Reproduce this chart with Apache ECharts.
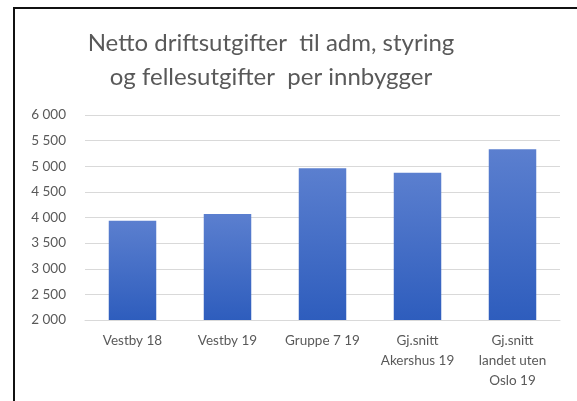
<!DOCTYPE html>
<html>
<head>
<meta charset="utf-8">
<script src="https://cdn.jsdelivr.net/npm/echarts@6/dist/echarts.min.js"></script>
<style>
  html, body { margin: 0; padding: 0; background: #fff; }
  .frame { position: absolute; left: 13px; top: 7px; width: 600px; height: 420px;
           border-left: 2px solid #111; border-top: 2px solid #111; }
  #chart { position: absolute; left: 0; top: 0; width: 577px; height: 401px; }
</style>
</head>
<body>
<div class="frame"></div>
<div id="chart"></div>
<script>
const categories = ["Vestby 18", "Vestby 19", "Gruppe 7 19", "Gj.snitt\nAkershus 19", "Gj.snitt\nlandet uten\nOslo 19"];
const values = [3937, 4068, 4960, 4874, 5330];
const titleText = "Netto driftsutgifter  til adm, styring\nog fellesutgifter  per innbygger";

const myChart = echarts.init(document.getElementById("chart"));
myChart.setOption({
  animation: false,
  textStyle: { fontFamily: "Lato" },
  title: {
    text: titleText,
    left: 266,
    top: 21,
    textAlign: "center",
    textStyle: { fontSize: 24, fontWeight: "normal", color: "#595959", lineHeight: 34, fontFamily: "Lato" },
  },
  grid: { left: 85, right: 17, top: 115, bottom: 81, containLabel: false },
  xAxis: {
    type: "category",
    data: categories,
    axisLine: { show: true, lineStyle: { color: "#d9d9d9" } },
    axisTick: { show: false },
    axisLabel: { color: "#595959", fontSize: 13.5, lineHeight: 20, margin: 11, interval: 0 },
  },
  yAxis: {
    type: "value",
    min: 2000,
    max: 6000,
    interval: 500,
    axisLine: { show: false },
    axisTick: { show: false },
    splitLine: { lineStyle: { color: "#d9d9d9" } },
    axisLabel: {
      color: "#595959",
      fontSize: 13.5,
      margin: 19,
      formatter: (v) => String(v).replace(/\B(?=(\d{3})+(?!\d))/g, " "),
    },
  },
  series: [
    {
      type: "bar",
      barWidth: "50%",
      data: values,
      itemStyle: {
        color: new echarts.graphic.LinearGradient(0, 0, 0, 1, [
          { offset: 0, color: "#5b7fcf" },
          { offset: 1, color: "#2e5dbd" },
        ]),
      },
    },
  ],
});
</script>
</body>
</html>
